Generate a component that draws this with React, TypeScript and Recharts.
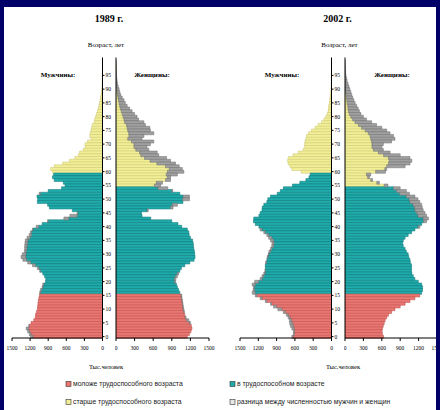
import { BarChart, Bar, XAxis, YAxis, Cell } from 'recharts'

// single-year ages 0..100, thousands of people
const AGES = Array.from({ length: 101 }, (_, i) => i)

const MEN_1989 = [
  1195, 1215, 1240, 1265, 1220, 1185, 1140, 1115, 1110, 1095,
  1080, 1075, 1070, 1065, 1055, 1045, 1040, 1030, 1000, 990,
  945, 940, 960, 990, 1040, 1080, 1160, 1240, 1320, 1350,
  1330, 1295, 1290, 1290, 1285, 1280, 1250, 1215, 1195, 1160,
  1100, 1000, 910, 640, 540, 420, 500, 880, 910, 1080,
  1075, 1085, 1050, 900, 680, 620, 650, 800, 830, 810,
  830, 860, 800, 660, 550, 460, 400, 380, 320, 290,
  290, 250, 190, 210, 205, 190, 180, 170, 140, 130,
  115, 100, 85, 70, 60, 50, 40, 33, 25, 18,
  12, 8, 6, 5, 3, 2, 1, 1, 1, 0, 0,
]
const WOMEN_1989 = [
  1150, 1185, 1210, 1225, 1215, 1200, 1175, 1130, 1110, 1100,
  1095, 1085, 1080, 1070, 1065, 1060, 1030, 1010, 990, 975,
  960, 965, 990, 1010, 1030, 1055, 1110, 1190, 1260, 1275,
  1270, 1265, 1255, 1250, 1245, 1235, 1200, 1180, 1175, 1150,
  1060, 1000, 900, 560, 420, 410, 520, 920, 990, 1080,
  1185, 1185, 1030, 915, 835, 720, 750, 880, 880, 990,
  1095, 1070, 1020, 960, 880, 815, 690, 665, 530, 500,
  555, 610, 420, 450, 610, 555, 545, 475, 450, 365,
  340, 300, 260, 220, 180, 150, 130, 100, 75, 60,
  50, 35, 25, 18, 12, 8, 5, 3, 2, 1, 1,
]
const MEN_2002 = [
  650, 625, 625, 650, 675, 685, 690, 710, 740, 790,
  880, 950, 1000, 1085, 1170, 1250, 1300, 1285, 1280, 1300,
  1260, 1170, 1140, 1110, 1090, 1085, 1085, 1080, 1060, 1055,
  1035, 1025, 1000, 980, 975, 1000, 1030, 1060, 1110, 1170,
  1190, 1250, 1280, 1275, 1190, 1170, 1140, 1135, 1110, 1060,
  1045, 1000, 890, 840, 790, 640, 520, 420, 370, 350,
  500, 650, 680, 710, 720, 710, 630, 545, 465, 440,
  440, 435, 420, 410, 380, 330, 270, 220, 165, 125,
  95, 70, 55, 50, 45, 35, 30, 24, 18, 12,
  8, 6, 5, 4, 3, 2, 1, 1, 1, 0, 0,
]
const WOMEN_2002 = [
  630, 610, 605, 610, 625, 640, 655, 680, 710, 760,
  815, 900, 980, 1060, 1140, 1220, 1250, 1265, 1265, 1250,
  1195, 1140, 1115, 1090, 1085, 1085, 1085, 1065, 1060, 1040,
  1030, 1000, 980, 950, 940, 950, 980, 1030, 1085, 1140,
  1220, 1250, 1330, 1360, 1330, 1305, 1275, 1260, 1250, 1220,
  1190, 1140, 1050, 1000, 900, 700, 560, 450, 400, 420,
  660, 680, 980, 1060, 1090, 1060, 900, 735, 625, 600,
  625, 760, 815, 790, 735, 680, 600, 515, 435, 350,
  300, 260, 235, 215, 190, 165, 145, 125, 110, 95,
  80, 65, 50, 35, 25, 15, 10, 6, 4, 2, 1,
]

const VALUE_TICKS = [0, 300, 600, 900, 1200, 1500]
const AGE_TICKS = [0, 5, 10, 15, 20, 25, 30, 35, 40, 45, 50, 55, 60, 65, 70, 75, 80, 85, 90, 95]

const NAVY = '#000068'
const RED = { fill: '#ea7672', edge: '#b9504d' }
const TEAL = { fill: '#1fabab', edge: '#137474' }
const YELLOW = { fill: '#f1ee96', edge: '#c9c577' }
const GRAY = { fill: '#a0a0a0', edge: '#6f6f6f' }

const PANEL_X = 4
const PANEL_Y = 7
const TOP = 50
const PLOT_TOP = 7.5
const CHART_H = 312
const X_AXIS_H = 24

const serif = '"Liberation Serif", "DejaVu Serif", serif'
const sans = '"Liberation Sans", Arial, sans-serif'

type Row = { age: number; base: number; extra: number }

function buildRows(own: number[], other: number[]): Row[] {
  const rows = AGES.map((age, i) => {
    const base = Math.min(own[i], other[i])
    return { age, base, extra: own[i] - base }
  })
  // empty band above 100 - the age axis runs a little past the last bar
  rows.push({ age: 101, base: 0, extra: 0 })
  return rows.reverse()
}

function colorFor(age: number, men: boolean) {
  if (age <= 15) return RED
  if (age < (men ? 60 : 55)) return TEAL
  return YELLOW
}

function Side({ own, other, men, x0, x1 }: { own: number[]; other: number[]; men: boolean; x0: number; x1: number }) {
  const rows = buildRows(own, other)
  const plotW = x1 - x0
  const yw = men ? 12 : 1
  const ml = men ? 14 : 0
  const mr = men ? 0 : 14
  const left = men ? x0 - ml : x0 - yw
  const width = men ? ml + plotW + yw : yw + plotW + mr

  return (
    <div style={{ position: 'absolute', left: left - PANEL_X, top: TOP - PANEL_Y }}>
      <BarChart
        width={width}
        height={CHART_H}
        data={rows}
        layout="vertical"
        barCategoryGap={0}
        margin={{ top: PLOT_TOP, right: mr, bottom: 0, left: ml }}
      >
        <XAxis
          type="number"
          domain={[0, 1500]}
          ticks={VALUE_TICKS}
          interval={0}
          reversed={men}
          allowDataOverflow
          height={X_AXIS_H}
          tick={{ fontSize: 5.5, fill: '#000', fontFamily: serif }}
          tickSize={3}
          tickMargin={5}
          stroke="#000"
        />
        <YAxis
          type="category"
          dataKey="age"
          orientation={men ? 'right' : 'left'}
          width={yw}
          ticks={AGE_TICKS}
          interval={0}
          tick={men ? { fontSize: 5.5, fill: '#000', fontFamily: serif, textAnchor: 'start' } : false}
          tickSize={2}
          tickMargin={1}
          stroke="#000"
        />
        <Bar dataKey="base" stackId="s" strokeWidth={0.5} isAnimationActive={false}>
          {rows.map((r) => {
            const c = colorFor(r.age, men)
            return <Cell key={r.age} fill={c.fill} stroke={c.edge} />
          })}
        </Bar>
        <Bar dataKey="extra" stackId="s" fill={GRAY.fill} stroke={GRAY.edge} strokeWidth={0.5} isAnimationActive={false} />
      </BarChart>
    </div>
  )
}

function LegendItem({ x, y, color, label }: { x: number; y: number; color: { fill: string; edge: string }; label: string }) {
  return (
    <g>
      <rect x={x} y={y - 2.5} width={5} height={5} fill={color.fill} stroke="#333" strokeWidth={0.6} />
      <text x={x + 7} y={y + 2.3} fontSize={6.8} fontFamily={sans} fill="#222">
        {label}
      </text>
    </g>
  )
}

export default function App() {
  return (
    <div style={{ position: 'absolute', left: 0, top: 0, width: 440, height: 410, background: NAVY }}>
      <div
        style={{
          position: 'absolute',
          left: PANEL_X,
          top: PANEL_Y,
          width: 436 - PANEL_X,
          height: 410 - PANEL_Y,
          background: '#fff',
          overflow: 'hidden',
        }}
      >
        <Side own={MEN_1989} other={WOMEN_1989} men x0={12} x1={102.5} />
        <Side own={WOMEN_1989} other={MEN_1989} men={false} x0={115.5} x1={208.5} />
        <Side own={MEN_2002} other={WOMEN_2002} men x0={240} x1={331.5} />
        <Side own={WOMEN_2002} other={MEN_2002} men={false} x0={345} x1={437} />
      </div>

      <svg width={440} height={410} style={{ position: 'absolute', left: 0, top: 0, pointerEvents: 'none' }}>
        <g fontFamily={serif} fill="#000" textAnchor="middle">
          <text x={109} y={22} fontSize={10} fontWeight="bold">1989 г.</text>
          <text x={337.5} y={22} fontSize={10} fontWeight="bold">2002 г.</text>
          <text x={106} y={47} fontSize={7}>Возраст, лет</text>
          <text x={339.5} y={47} fontSize={7}>Возраст, лет</text>
          <text x={58} y={77} fontSize={7} fontWeight="bold">Мужчины:</text>
          <text x={152} y={77} fontSize={7} fontWeight="bold">Женщины:</text>
          <text x={282} y={77} fontSize={7} fontWeight="bold">Мужчины:</text>
          <text x={392} y={77} fontSize={7} fontWeight="bold">Женщины:</text>
          <text x={106} y={369} fontSize={6.5}>Тыс.человек</text>
          <text x={343} y={369} fontSize={6.5}>Тыс.человек</text>
        </g>
        <LegendItem x={66} y={384} color={RED} label="моложе трудоспособного возраста" />
        <LegendItem x={230} y={384} color={TEAL} label="в трудоспособном возрасте" />
        <LegendItem x={66} y={402} color={YELLOW} label="старше трудоспособного возраста" />
        <LegendItem x={230} y={402} color={{ fill: '#e6e6e6', edge: '#666' }} label="разница между численностью мужчин и женщин" />
      </svg>
    </div>
  )
}
